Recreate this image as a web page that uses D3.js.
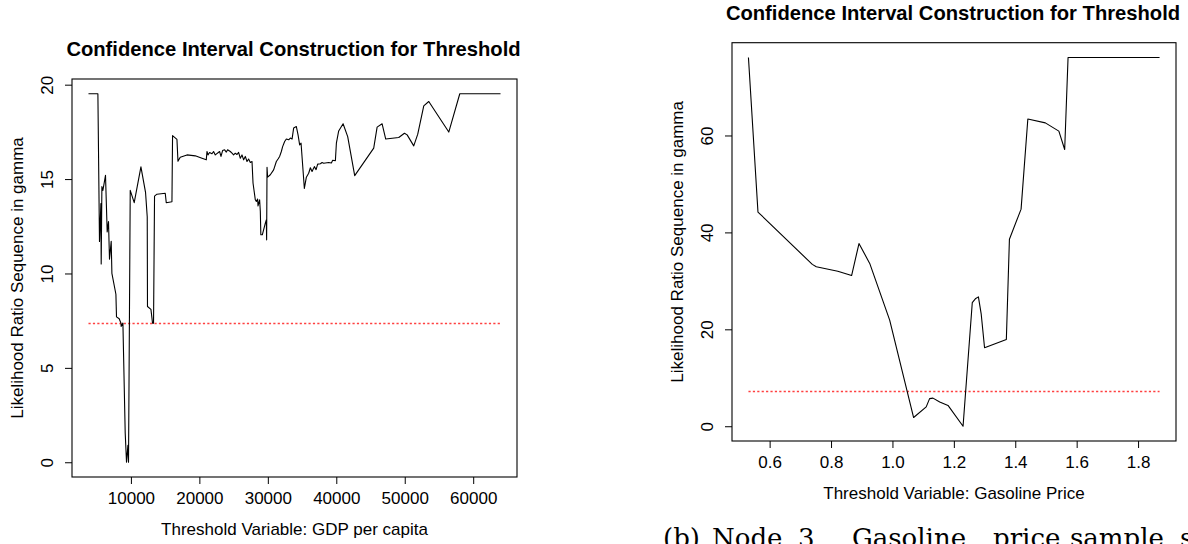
<!DOCTYPE html>
<html>
<head>
<meta charset="utf-8">
<script src="https://cdn.jsdelivr.net/npm/d3@7"></script>
<style>
  body { margin: 0; background: #fff; }
  svg { display: block; font-family: "Liberation Sans", Arial, Helvetica, sans-serif; }
</style>
</head>
<body>
<svg id="chart" width="1188" height="544"></svg>
<script>
// datos del panel izquierdo (GDP per capita)
const gdpX = [3801, 5175, 5409, 5614, 5658, 5760, 5906, 6287, 6535, 6725, 6871, 7120, 7222,
  7807, 7895, 8289, 8538, 8582, 8830, 9167, 9357, 9561, 9649, 9900, 10482, 11462, 12135,
  12383, 12420, 12924, 13158, 13304, 13450, 13801, 15015, 15161, 15994, 16082, 16725,
  16871, 17208, 18187, 19401, 20380, 21009, 21111, 21257, 21491, 21842, 22076, 22325,
  22953, 23158, 23392, 23684, 23933, 24123, 24518, 24766, 25000, 25249, 25497, 25731,
  25980, 26228, 26462, 26711, 26959, 27193, 27442, 27690, 27836, 28173, 28319, 28509,
  28567, 28801, 28904, 28977, 29196, 29635, 29781, 29825, 29883, 29971, 30365, 30848,
  31243, 31491, 31725, 31974, 32164, 32456, 32705, 33041, 33289, 33538, 33772, 34167,
  34415, 34649, 34854, 35336, 35629, 35965, 36214, 36462, 36798, 37047, 37281, 37675,
  37924, 38158, 38889, 39284, 39474, 39868, 40015, 40351, 40994, 41667, 42690, 45468,
  45965, 46696, 47222, 49123, 49956, 50351, 51316, 51901, 52778, 53509, 56433, 58041, 63991];
const gdpLR = [19.52, 19.52, 11.7, 13.7, 10.5, 14.6, 14.4, 15.2, 12.2, 12.75, 10.75, 11.7, 10.0,
  8.9, 7.7, 7.6, 7.37, 7.2, 7.37, 1.54, 0.0, 0.9, 0.0, 14.4, 13.75, 15.65, 14.3,
  13.0, 8.25, 8.1, 7.37, 7.37, 14.1, 14.2, 14.25, 13.75, 13.8, 17.3, 17.1,
  15.95, 16.16, 16.28, 16.23, 16.1, 16.02, 16.46, 16.28, 16.41, 16.34, 16.46, 16.28,
  16.46, 16.2, 16.51, 16.55, 16.43, 16.55, 16.46, 16.37, 16.28, 16.37, 16.3, 16.41,
  16.1, 16.28, 16.02, 16.2, 15.93, 16.06, 15.88, 15.93, 14.79, 13.9, 13.81, 13.94,
  13.58, 13.9, 13.28, 12.05, 12.05, 12.67, 12.84, 11.78, 15.63, 15.1, 15.23, 15.49,
  15.93, 16.06, 16.2, 16.46, 16.72, 16.99, 17.12, 17.08, 17.17, 17.12, 17.7, 17.78,
  17.34, 16.81, 16.9, 14.5, 15.1, 15.31, 15.6, 15.4, 15.66, 15.5, 15.79, 15.81,
  15.88, 15.84, 15.88, 15.85, 16.0, 15.97, 16.9, 17.55, 17.93, 17.25, 15.18, 16.64,
  17.75, 17.93, 17.12, 17.2, 17.43, 17.34, 16.76, 17.38, 18.88, 19.11, 17.49, 19.52, 19.52];
const gdpXTicks = [10000, 20000, 30000, 40000, 50000, 60000];
const gdpYTicks = [0, 5, 10, 15, 20];

// datos del panel derecho (Gasoline price)
const gasX = [0.531, 0.562, 0.739, 0.752, 0.822, 0.867, 0.891, 0.926, 0.991, 1.069, 1.110,
  1.121, 1.132, 1.154, 1.181, 1.230, 1.260, 1.270, 1.280, 1.289, 1.300, 1.371, 1.381,
  1.419, 1.441, 1.498, 1.542, 1.561, 1.572, 1.870];
const gasLR = [76.1, 44.2, 33.4, 32.9, 32.0, 31.1, 37.7, 33.6, 21.9, 1.8, 4.0,
  5.7, 5.8, 5.0, 4.3, 0.0, 25.5, 26.3, 26.7, 23.2, 16.2, 17.9, 38.6,
  44.8, 63.4, 62.6, 60.9, 57.1, 76.1, 76.1];
const gasXTicks = [0.6, 0.8, 1.0, 1.2, 1.4, 1.6, 1.8];
const gasYTicks = [0, 20, 40, 60];

const critValue = 7.35;
const titleText = "Confidence Interval Construction for Threshold";
const yLabelText = "Likelihood Ratio Sequence in gamma";
const captionWords = ["(b)", "Node", "3", "Gasoline", "price", "sample", "split"];

const svg = d3.select("#chart");

// R extiende los ejes un 4% a cada lado
function rExtent(vals) {
  const [a, b] = d3.extent(vals);
  const d = (b - a) * 0.04;
  return [a - d, b + d];
}

function drawPanel(p) {
  const x = d3.scaleLinear().domain(rExtent(p.xs)).range([p.left, p.right]);
  const y = d3.scaleLinear().domain(rExtent(p.ys.concat([0]))).range([p.bottom, p.top]);
  const g = svg.append("g");

  // titulo
  g.append("text")
    .attr("x", (p.left + p.right) / 2 - 1)
    .attr("y", p.top - 30)
    .attr("text-anchor", "middle")
    .attr("dominant-baseline", "central")
    .style("font-weight", "bold")
    .style("font-size", "20.2px")
    .text(titleText);

  // eje x
  const xAxis = d3.axisBottom(x).tickValues(p.xTicks).tickSize(7).tickPadding(8)
    .tickFormat(p.xFormat);
  const gx = g.append("g")
    .attr("transform", `translate(0,${p.bottom})`)
    .call(xAxis);
  gx.select(".domain").remove();
  gx.selectAll("text").style("font-size", "17px").attr("fill", "#000");
  gx.selectAll("line").attr("stroke", "#000");

  // eje y (etiquetas giradas como en R)
  const gy = g.append("g")
    .attr("transform", `translate(${p.left},0)`)
    .call(d3.axisLeft(y).tickValues(p.yTicks).tickSize(7).tickFormat(d3.format("d")));
  gy.select(".domain").remove();
  gy.selectAll("line").attr("stroke", "#000");
  gy.selectAll("text")
    .attr("x", null).attr("dy", null)
    .attr("text-anchor", "middle")
    .attr("dominant-baseline", "central")
    .attr("transform", "translate(-25,0) rotate(-90)")
    .style("font-size", "17px")
    .attr("fill", "#000");

  // caja
  g.append("rect")
    .attr("x", p.left).attr("y", p.top)
    .attr("width", p.right - p.left).attr("height", p.bottom - p.top)
    .attr("fill", "none").attr("stroke", "#000").attr("stroke-width", 1.1);

  // etiquetas de ejes
  g.append("text")
    .attr("x", (p.left + p.right) / 2)
    .attr("y", p.bottom + 52)
    .attr("text-anchor", "middle")
    .attr("dominant-baseline", "central")
    .style("font-size", "17px")
    .text(p.xLabel);
  g.append("text")
    .attr("transform", `translate(${p.left - 55},${(p.top + p.bottom) / 2}) rotate(-90)`)
    .attr("text-anchor", "middle")
    .attr("dominant-baseline", "central")
    .style("font-size", "17px")
    .text(yLabelText);

  // linea del valor critico
  const yc = Math.round(y(critValue)) + 0.5;
  g.append("line")
    .attr("x1", x(d3.min(p.xs))).attr("x2", x(d3.max(p.xs)))
    .attr("y1", yc).attr("y2", yc)
    .attr("stroke", "#ff4040").attr("stroke-width", 1.6)
    .attr("stroke-dasharray", "2.2,2.2");

  // secuencia LR
  const line = d3.line().x(i => x(p.xs[i])).y(i => y(p.ys[i]));
  g.append("path")
    .attr("d", line(d3.range(p.xs.length)))
    .attr("fill", "none").attr("stroke", "#000").attr("stroke-width", 1.1)
    .attr("stroke-linejoin", "round");
}

drawPanel({
  xs: gdpX, ys: gdpLR, xTicks: gdpXTicks, yTicks: gdpYTicks,
  xFormat: d3.format("d"),
  left: 72, right: 517, top: 79, bottom: 477,
  xLabel: "Threshold Variable: GDP per capita"
});

drawPanel({
  xs: gasX, ys: gasLR, xTicks: gasXTicks, yTicks: gasYTicks,
  xFormat: d3.format(".1f"),
  left: 732, right: 1176, top: 42.7, bottom: 441,
  xLabel: "Threshold Variable: Gasoline Price"
});

// pie de figura (cortado en el borde inferior, como en la referencia)
const captionX = [663, 712, 798, 852, 993, 1070, 1180];
svg.append("text")
  .attr("y", 547)
  .style("font-family", "'DejaVu Serif', 'Liberation Serif', serif")
  .style("font-size", "26px")
  .selectAll("tspan")
  .data(captionWords)
  .join("tspan")
  .attr("x", (d, i) => captionX[i])
  .text(d => d);
</script>
</body>
</html>
